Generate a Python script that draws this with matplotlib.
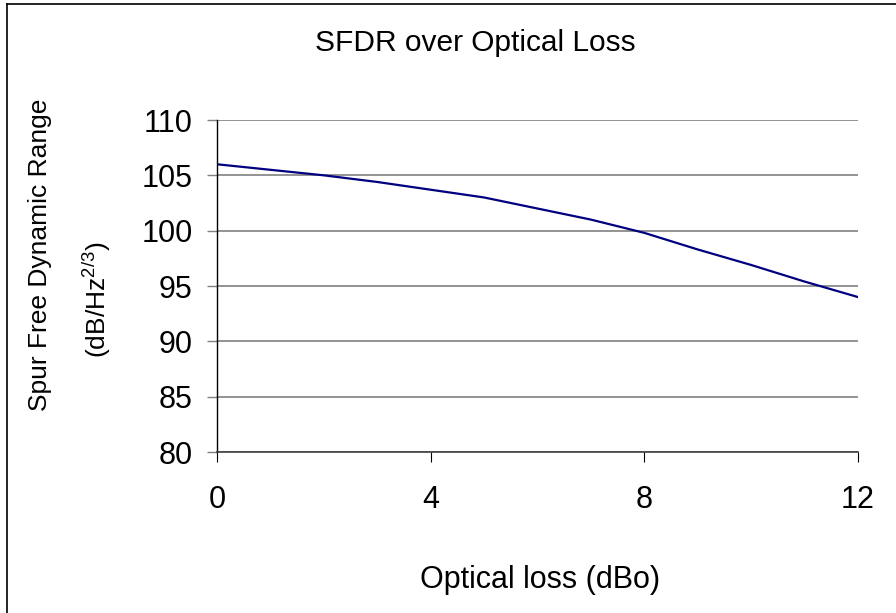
import matplotlib.pyplot as plt
from matplotlib.lines import Line2D

plt.rcParams['font.family'] = ['Liberation Sans', 'DejaVu Sans']
plt.rcParams['mathtext.fontset'] = 'custom'
plt.rcParams['mathtext.rm'] = 'Liberation Sans'
plt.rcParams['mathtext.it'] = 'Liberation Sans:italic'

# values
optical_loss = [0, 1, 2, 3, 4, 5, 6, 7, 8, 9, 10, 11, 12]
sfdr = [106.0, 105.5, 105.0, 104.4, 103.7, 103.0, 102.0, 101.0, 99.8, 98.3, 96.9, 95.4, 94.0]
x_ticks = [0, 4, 8, 12]
y_ticks = [80, 85, 90, 95, 100, 105, 110]

W, H = 896, 613
fig = plt.figure(figsize=(W / 100, H / 100), dpi=100)
ax = fig.add_axes([217 / W, 1 - 452 / H, (858 - 217) / W, (452 - 120) / H])

ax.plot(optical_loss, sfdr, color='#000080', lw=1.6, zorder=3)

ax.set_xlim(0, 12)
ax.set_ylim(80, 110)
ax.set_xticks(x_ticks)
ax.set_yticks(y_ticks)
ax.yaxis.grid(True, color='#808080', lw=1.2)
ax.set_axisbelow(True)
for side in ['top', 'right']:
    ax.spines[side].set_visible(False)
ax.spines['left'].set_color('black')
ax.spines['left'].set_linewidth(1.0)
ax.spines['bottom'].set_color('#404040')
ax.spines['bottom'].set_linewidth(1.2)
ax.tick_params(axis='y', direction='out', length=7.5, width=1.0, color='#808080',
               labelsize=22, pad=10)
ax.tick_params(axis='x', direction='out', length=7.5, width=0.8, color='black',
               labelsize=22, pad=16)

fig.text(475 / W, 1 - 43 / H, 'SFDR over Optical Loss', fontsize=21.5,
         ha='center', va='center')
fig.text(540 / W, 1 - 580 / H, 'Optical loss (dBo)', fontsize=22,
         ha='center', va='center')
fig.text(40 / W, 1 - 255 / H, 'Spur Free Dynamic Range', fontsize=19,
         rotation=90, ha='center', va='center')
fig.text(97 / W, 1 - 300 / H, r'(dB/Hz$^{\mathrm{2/3}}$)', fontsize=19,
         rotation=90, ha='center', va='center')

# outer chart border (only top and left visible in the reference)
fig.add_artist(Line2D([7 / W, 7 / W], [0, 1 - 3.5 / H], color='black', lw=1.2,
                      transform=fig.transFigure))
fig.add_artist(Line2D([7 / W, 1], [1 - 3.5 / H, 1 - 3.5 / H], color='black', lw=1.2,
                      transform=fig.transFigure))

fig.savefig('out.png', dpi=100)
